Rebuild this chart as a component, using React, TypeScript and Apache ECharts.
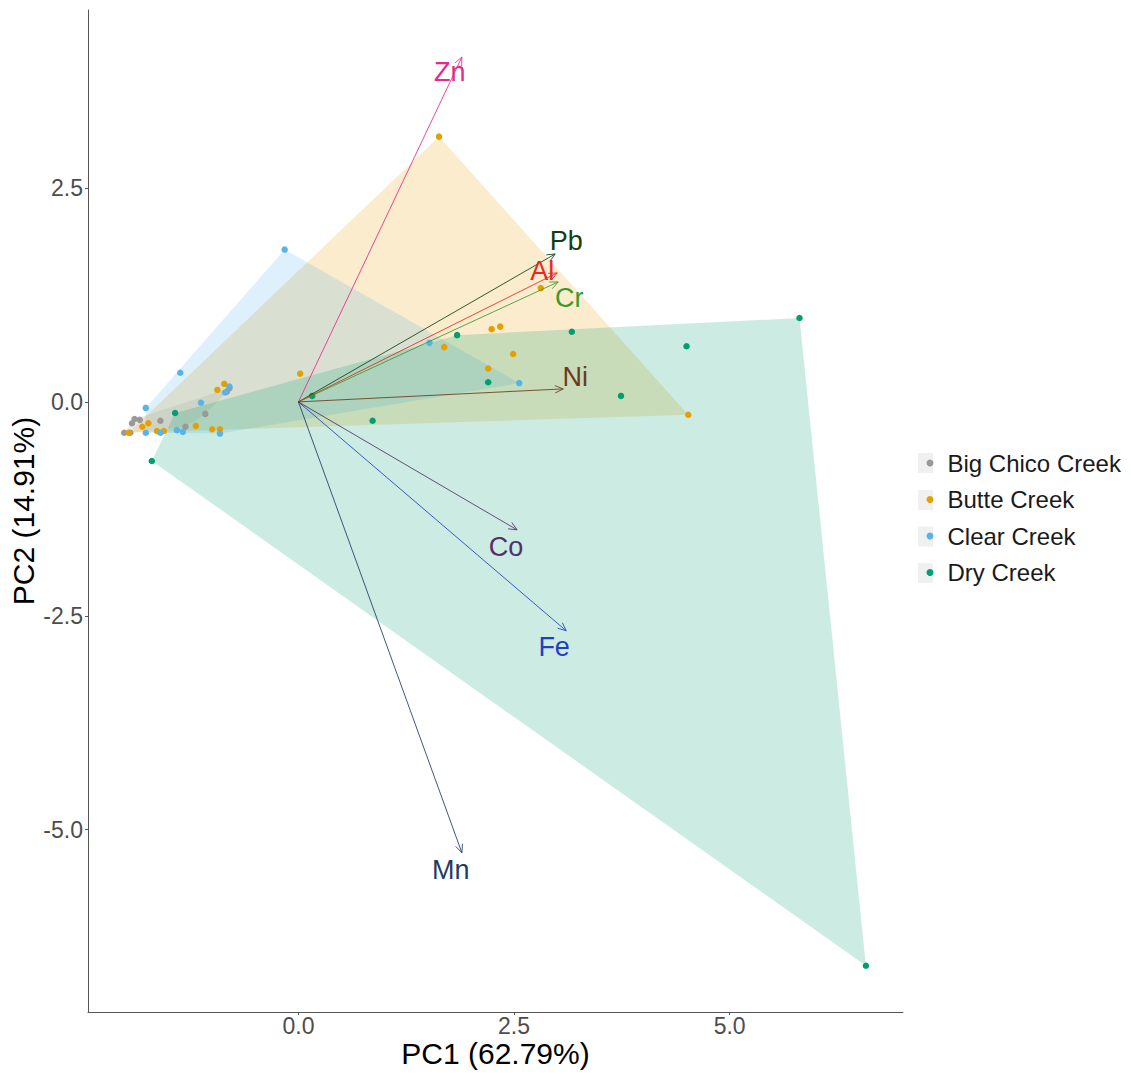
import React, { useEffect, useRef } from 'react';
import * as echarts from 'echarts';

const FONT = '"Liberation Sans", Arial, Helvetica, sans-serif';

const groups = ['Big Chico Creek', 'Butte Creek', 'Clear Creek', 'Dry Creek'];
const groupColors = ['#999999', '#E69F00', '#56B4E9', '#009E73'];
const hullFills = ['rgba(153,153,153,0.2)', 'rgba(230,159,0,0.2)', 'rgba(86,180,233,0.2)', 'rgba(0,158,115,0.2)'];

const bigChicoPC1 = [-0.80, -0.83, -1.90, -1.93, -1.84, -1.60, -1.08, -1.31, -2.02, -1.95];
const bigChicoPC2 = [0.16, 0.12, -0.20, -0.25, -0.21, -0.22, -0.14, -0.29, -0.36, -0.36];

const buttePC1 = [1.63, 4.52, 2.81, 2.24, 2.34, 1.69, 2.49, 2.20, 0.02, -0.86, -0.94, -1.19, -1.00, -0.91, -1.74, -1.81, -1.64, -1.56, -1.97];
const buttePC2 = [3.10, -0.15, 1.33, 0.85, 0.88, 0.64, 0.56, 0.39, 0.33, 0.21, 0.14, -0.28, -0.32, -0.32, -0.25, -0.29, -0.34, -0.34, -0.36];

const clearPC1 = [-0.16, 2.56, 1.52, -1.37, -1.77, -1.13, -0.80, -0.85, -1.77, -1.60, -1.41, -1.34, -0.91];
const clearPC2 = [1.78, 0.22, 0.69, 0.34, -0.07, -0.01, 0.18, 0.11, -0.36, -0.36, -0.33, -0.35, -0.37];

const dryPC1 = [5.81, 6.58, -1.70, 4.50, 3.74, 3.17, 1.84, 2.20, 0.86, 0.16, -1.43];
const dryPC2 = [0.98, -6.59, -0.69, 0.65, 0.07, 0.82, 0.78, 0.23, -0.22, 0.07, -0.13];

const variables = ['Zn', 'Pb', 'Al', 'Cr', 'Ni', 'Co', 'Fe', 'Mn'];
const loadPC1 = [1.895, 2.977, 3.0, 3.012, 3.07, 2.535, 3.105, 1.895];
const loadPC2 = [4.03, 1.729, 1.507, 1.402, 0.152, -1.495, -2.675, -5.269];
const labelPC1 = [1.756, 3.105, 2.826, 3.14, 3.209, 2.407, 2.965, 1.767];
const labelPC2 = [3.855, 1.881, 1.53, 1.215, 0.292, -1.694, -2.862, -5.467];
const varColors = ['#E7298A', '#123F12', '#E8291C', '#3A9A2C', '#6B3A1E', '#54306A', '#1F3FC4', '#1F3B66'];

const xTicks = [0, 2.5, 5];
const yTicks = [-5, -2.5, 0, 2.5];

const groupX = [bigChicoPC1, buttePC1, clearPC1, dryPC1];
const groupY = [bigChicoPC2, buttePC2, clearPC2, dryPC2];

function convexHull(pts: number[][]): number[][] {
  const p = pts.slice().sort((a, b) => (a[0] - b[0]) || (a[1] - b[1]));
  if (p.length < 3) return p;
  const cross = (o: number[], a: number[], b: number[]) =>
    (a[0] - o[0]) * (b[1] - o[1]) - (a[1] - o[1]) * (b[0] - o[0]);
  const lower: number[][] = [];
  for (const q of p) {
    while (lower.length >= 2 && cross(lower[lower.length - 2], lower[lower.length - 1], q) <= 0) lower.pop();
    lower.push(q);
  }
  const upper: number[][] = [];
  for (let i = p.length - 1; i >= 0; i--) {
    const q = p[i];
    while (upper.length >= 2 && cross(upper[upper.length - 2], upper[upper.length - 1], q) <= 0) upper.pop();
    upper.push(q);
  }
  upper.pop();
  lower.pop();
  return lower.concat(upper);
}

export default function App() {
  const ref = useRef<HTMLDivElement>(null);

  useEffect(() => {
    if (!ref.current) return;
    const chart = echarts.init(ref.current, undefined, { renderer: 'svg' });

    const series: any[] = [];

    groups.forEach((g, gi) => {
      const pts = groupX[gi].map((x, i) => [x, groupY[gi][i]]);
      const hull = convexHull(pts);
      series.push({
        type: 'custom',
        name: g + ' hull',
        z: 1,
        silent: true,
        data: [[hull[0][0], hull[0][1]]],
        renderItem: (params: any, api: any) => {
          const points = hull.map((p) => api.coord(p));
          return {
            type: 'polygon',
            shape: { points },
            style: { fill: hullFills[gi], stroke: 'none' },
          };
        },
      });
    });

    groups.forEach((g, gi) => {
      series.push({
        type: 'scatter',
        name: g,
        z: 2,
        symbol: 'circle',
        symbolSize: 6.5,
        itemStyle: { color: groupColors[gi], opacity: 1 },
        data: groupX[gi].map((x, i) => [x, groupY[gi][i]]),
      });
    });

    series.push({
      type: 'custom',
      name: 'loadings',
      z: 3,
      silent: true,
      data: variables.map((v, i) => [loadPC1[i], loadPC2[i], labelPC1[i], labelPC2[i]]),
      renderItem: (params: any, api: any) => {
        const i = params.dataIndex;
        const o = api.coord([0, 0]);
        const t = api.coord([api.value(0), api.value(1)]);
        const l = api.coord([api.value(2), api.value(3)]);
        const a = Math.atan2(t[1] - o[1], t[0] - o[0]);
        const L = 9;
        const s = 0.42;
        const p1 = [t[0] - L * Math.cos(a - s), t[1] - L * Math.sin(a - s)];
        const p2 = [t[0] - L * Math.cos(a + s), t[1] - L * Math.sin(a + s)];
        const c = varColors[i];
        return {
          type: 'group',
          children: [
            {
              type: 'line',
              shape: { x1: o[0], y1: o[1], x2: t[0], y2: t[1] },
              style: { stroke: c, lineWidth: 1, opacity: 0.85 },
            },
            {
              type: 'polyline',
              shape: { points: [p1, t, p2] },
              style: { stroke: c, lineWidth: 1, fill: 'none', opacity: 0.85 },
            },
            {
              type: 'text',
              style: {
                text: variables[i],
                x: l[0],
                y: l[1],
                fill: c,
                fontSize: 27,
                fontFamily: FONT,
                align: 'center',
                verticalAlign: 'middle',
                textAlign: 'center',
                textVerticalAlign: 'middle',
              },
            },
          ],
        };
      },
    });

    const keyCenters = [463, 500, 536.5, 573];

    chart.setOption({
      animation: false,
      backgroundColor: '#ffffff',
      grid: { left: 88, right: 228, top: 10, bottom: 62, containLabel: false, outerBoundsMode: 'none' },
      xAxis: {
        type: 'value',
        min: -2.44,
        max: 7.01,
        name: 'PC1 (62.79%)',
        nameLocation: 'middle',
        nameGap: 26,
        nameMoveOverlap: false,
        nameTextStyle: { fontSize: 30, lineHeight: 30, color: '#000000', fontFamily: FONT },
        axisLine: { show: true, onZero: false, lineStyle: { color: '#555555', width: 1 } },
        axisTick: { show: true, length: 3, customValues: xTicks, lineStyle: { color: '#555555' } },
        axisLabel: {
          customValues: xTicks,
          formatter: (v: number) => v.toFixed(1),
          fontSize: 23,
          lineHeight: 23,
          color: '#4D4D4D',
          fontFamily: FONT,
          margin: 2,
        },
        splitLine: { show: false },
      },
      yAxis: {
        type: 'value',
        min: -7.13,
        max: 4.58,
        name: 'PC2 (14.91%)',
        nameLocation: 'middle',
        nameGap: 50,
        nameMoveOverlap: false,
        nameTextStyle: { fontSize: 30, lineHeight: 30, color: '#000000', fontFamily: FONT },
        axisLine: { show: true, onZero: false, lineStyle: { color: '#555555', width: 1 } },
        axisTick: { show: true, length: 3, customValues: yTicks, lineStyle: { color: '#555555' } },
        axisLabel: {
          customValues: yTicks,
          formatter: (v: number) => v.toFixed(1),
          fontSize: 23,
          color: '#4D4D4D',
          fontFamily: FONT,
          margin: 5,
        },
        splitLine: { show: false },
      },
      legend: {
        data: groups,
        orient: 'vertical',
        left: 921.5,
        top: 446,
        itemWidth: 7,
        itemHeight: 7,
        itemGap: 12.5,
        icon: 'circle',
        selectedMode: false,
        textStyle: {
          fontSize: 24,
          lineHeight: 24,
          color: '#1A1A1A',
          fontFamily: FONT,
          padding: [0, 0, 0, 9],
        },
      },
      graphic: keyCenters.map((cy) => ({
        type: 'rect',
        shape: { x: 918, y: cy - 10, width: 15, height: 20 },
        style: { fill: '#F0F0F0' },
        z: 0,
        silent: true,
      })),
      series,
    });

    return () => {
      chart.dispose();
    };
  }, []);

  return (
    <div
      ref={ref}
      style={{ position: 'absolute', left: 0, top: 0, width: 1131, height: 1074 }}
    />
  );
}
